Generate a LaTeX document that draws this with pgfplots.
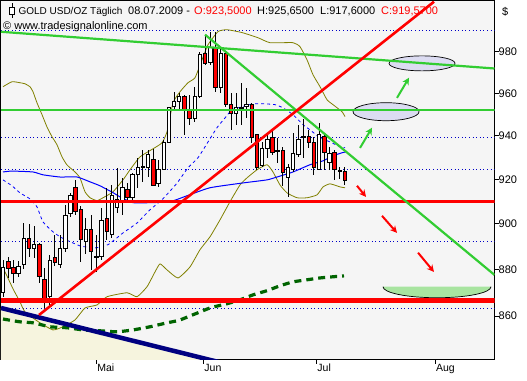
\documentclass[border=0pt]{standalone}
\usepackage{pgfplots}
\pgfplotsset{compat=1.18}
\usepackage{pgfplotstable}
\usetikzlibrary{arrows.meta}
\usepackage{fontspec}
\setmainfont{Liberation Sans}

\definecolor{bggray}{RGB}{245,245,245}
\definecolor{beige}{RGB}{246,244,222}
\definecolor{olivebb}{RGB}{128,128,0}
\definecolor{limeg}{RGB}{50,205,50}
\definecolor{darkg}{RGB}{0,100,0}
\definecolor{navyl}{RGB}{0,0,128}
\definecolor{lav}{RGB}{220,220,242}
\definecolor{bowl}{RGB}{168,228,160}
\definecolor{cred}{RGB}{255,0,0}
\definecolor{gridblue}{RGB}{0,0,200}
\definecolor{mablue}{RGB}{0,0,255}

% daily candles: x = trading-day index, open high low close
\pgfplotstableread{
x o h l c
0 869.9 884.1 868.2 881.1
1 883.7 885.5 876.3 880.6
2 881.1 884.1 874.2 878.5
3 878.5 883.7 876.8 881.5
4 882.0 900.4 880.2 893.4
5 893.8 900.0 885.5 889.4
6 889.0 899.1 885.1 890.8
7 890.8 891.6 874.2 877.2
8 875.5 880.6 863.4 867.7
9 868.2 886.4 864.7 884.1
10 885.1 895.2 881.5 882.9
11 882.0 895.2 880.6 889.4
12 889.4 908.5 887.7 904.0
13 904.5 913.9 903.1 912.6
14 916.2 919.8 904.0 905.8
15 906.3 908.1 883.3 893.0
16 892.5 902.7 886.8 897.4
17 897.4 904.0 879.8 887.7
18 885.7 895.2 878.9 885.1
19 885.5 907.2 884.1 901.8
20 902.7 916.2 893.0 896.5
21 895.2 917.5 893.8 913.0
22 907.2 925.3 904.9 910.8
23 909.5 920.7 904.0 916.2
24 915.3 918.4 910.8 912.1
25 912.1 923.0 909.5 922.1
26 922.1 929.9 916.2 925.7
27 925.9 933.6 918.9 925.3
28 925.7 933.6 921.2 931.3
29 929.4 934.0 917.1 917.5
30 918.0 929.0 916.6 924.4
31 924.8 938.2 924.4 936.8
32 937.2 953.6 936.8 953.1
33 953.6 960.7 952.2 956.0
34 956.4 960.2 952.2 958.3
35 958.3 959.2 940.5 951.7
36 952.2 959.2 945.2 948.0
37 948.0 963.1 946.6 958.7
38 958.3 979.9 957.8 978.4
39 978.9 988.2 973.6 974.1
40 974.6 989.7 973.6 981.8
41 981.8 989.7 960.7 962.6
42 962.6 982.3 960.2 978.9
43 978.9 979.9 953.6 955.0
44 955.0 960.2 942.8 950.3
45 950.7 960.2 945.2 953.1
46 953.4 965.0 945.2 952.8
47 953.6 962.6 948.4 954.5
48 955.0 955.5 936.8 939.1
49 940.5 940.6 924.4 925.7
50 926.2 937.2 925.7 934.0
51 934.0 940.5 929.9 938.2
52 939.1 942.8 931.3 932.2
53 933.4 939.1 927.6 932.8
54 933.1 934.9 917.1 923.4
55 921.1 927.1 912.1 925.7
56 924.4 941.4 923.4 931.7
57 931.3 945.2 930.3 938.6
58 939.8 948.0 929.9 939.2
59 940.0 942.8 934.5 936.8
60 937.2 939.5 922.1 925.7
61 924.8 946.1 924.4 940.5
62 940.0 941.4 924.4 932.6
63 927.6 934.9 924.4 931.7
64 932.2 933.6 919.8 924.4
65 924.1 925.7 920.2 923.5
66 923.5 925.65 917.6 919.57
}\candles

\begin{document}
\begin{tikzpicture}
\fill[white] (0,0) rectangle (527pt,-380pt);
\useasboundingbox (0,0) rectangle (527pt,-380pt);
\begin{axis}[
  at={(1pt,-0.5pt)}, anchor=north west,
  scale only axis, width=493.5pt, height=359.5pt,
  xmin=-0.386, xmax=94.88,
  ymode=log, ymin=841.54, ymax=1005.1,
  axis background/.style={fill=bggray},
  axis line style={black, line width=1pt},
  xtick={18.09,38.75,60.56,83.46},
  xticklabels={Mai,Jun,Jul,Aug},
  ytick={860,880,900,920,940,960,980},
  yticklabels={860,880,900,920,940,960,980},
  yminorticks=false, xminorticks=false,
  xtick pos=left, ytick pos=right, yticklabel pos=right,
  tick align=outside, major tick length=4pt,
  tick style={black, line width=0.8pt},
  x tick label style={font=\fontsize{10.5}{12}\selectfont, anchor=north west, inner sep=0pt, xshift=0.5pt},
  y tick label style={font=\fontsize{11}{12}\selectfont, anchor=west, inner sep=0pt},
  clip=true,
]
% shaded area below the long-term trend line
\addplot[fill=beige, draw=none, forget plot] coordinates {(-0.386,863.4) (40.5,841.2) (-0.386,841.2)} -- cycle;
% dotted horizontal levels
\addplot[gridblue, line width=0.9pt, dash pattern=on 1pt off 2.6pt] coordinates {(-0.386,990.1) (94.88,990.1)};
\addplot[gridblue, line width=0.9pt, dash pattern=on 1pt off 2.6pt] coordinates {(-0.386,939.4) (94.88,939.4)};
\addplot[gridblue, line width=0.9pt, dash pattern=on 1pt off 2.6pt] coordinates {(-0.386,924.7) (94.88,924.7)};
\addplot[gridblue, line width=0.9pt, dash pattern=on 1pt off 2.6pt] coordinates {(-0.386,892.1) (94.88,892.1)};
\addplot[gridblue, line width=0.9pt, dash pattern=on 1pt off 2.6pt] coordinates {(-0.386,863.4) (94.88,863.4)};
% ellipses (targets)
\draw[black, line width=0.7pt, fill=lav] (axis cs:73.94,951.3) ellipse [x radius=33pt, y radius=9pt];
\draw[black, line width=0.7pt, fill=lav] (axis cs:80.89,974.3) ellipse [x radius=33pt, y radius=7.5pt];
\fill[bowl] (axis cs:83.78,872.5) ++(-54pt,0pt) arc[start angle=180, end angle=360, x radius=54pt, y radius=11pt] -- cycle;
\draw[black, line width=0.7pt] (axis cs:83.78,872.5) ++(-54pt,0pt) arc[start angle=180, end angle=360, x radius=54pt, y radius=11pt];
% Bollinger upper
\addplot[olivebb, line width=0.8pt, smooth, tension=0.3] coordinates {(0,963.1) (1.74,965.5) (3.28,965.0) (4.25,964.5) (5.21,963.1) (5.79,960.7) (6.56,955.5) (7.53,949.9) (8.49,944.2) (9.46,939.6) (10.42,935.9) (11.39,930.3) (12.36,926.6) (13.90,923.4) (14.86,920.7) (15.83,914.4) (16.80,911.7) (18.15,910.4) (19.31,911.7) (21.24,914.4) (23.17,919.8) (24.52,924.4) (26.45,930.3) (28.96,934.0) (30.69,936.8) (31.66,941.9) (32.82,955.5) (34.17,960.7) (35.71,965.0) (37.07,967.4) (38.42,976.0) (39.58,983.3) (41.51,989.7) (43.24,990.6) (46.14,989.2) (49.23,986.7) (51.54,984.3) (55.98,984.3) (57.34,982.3) (58.69,976.0) (59.85,968.8) (61.20,963.1) (62.55,956.9) (63.71,954.6) (65.44,951.3) (66.02,949.0)};
% Bollinger lower
\addplot[olivebb, line width=0.8pt, smooth, tension=0.3] coordinates {(-0.19,880.7) (0.39,878.9) (1.93,871.6) (3.28,866.0) (4.25,861.7) (7.14,857.1) (9.65,854.1) (11.58,855.4) (13.90,858.3) (15.83,863.4) (18.15,864.7) (20.08,868.2) (23.94,869.9) (25.87,868.2) (27.80,872.5) (29.34,878.9) (30.31,882.4) (31.66,879.8) (33.78,876.3) (36.10,881.1) (38.03,888.6) (39.96,894.3) (41.89,901.8) (43.82,909.9) (45.75,917.5) (47.10,920.7) (49.03,924.4) (50.97,926.7) (52.12,923.4) (53.47,917.5) (54.83,913.9) (56.76,911.7) (58.69,911.7) (60.62,913.0) (61.78,916.6) (63.13,918.0) (65.06,916.6) (66.02,916.2)};
% 20-day average (dashed blue)
\addplot[mablue, line width=0.8pt, dash pattern=on 3pt off 3pt, smooth, tension=0.3] coordinates {(0,919.8) (1.74,917.1) (3.28,913.9) (5.21,911.2) (6.56,907.6) (7.72,900.9) (9.65,896.5) (11.39,893.8) (14.86,890.3) (17.76,889.4) (20.27,890.8) (23.17,896.0) (25.87,900.4) (28.38,906.3) (30.69,910.8) (32.82,916.2) (33.78,918.9) (35.71,925.3) (37.64,929.9) (39.58,937.2) (41.31,943.8) (42.86,948.4) (44.21,952.2) (46.14,953.6) (48.26,955.0) (50.58,955.0) (52.51,954.6) (54.05,953.1) (55.98,949.9) (57.92,945.2) (59.27,942.8) (61.20,939.1) (63.13,937.2) (65.06,934.9) (66.02,934.5)};
% longer average (solid blue)
\addplot[mablue, line width=1pt, smooth, tension=0.3] coordinates {(0,923.4) (1.74,923.8) (5.79,923.4) (7.72,922.1) (11.0,921.1) (14.29,921.1) (16.80,918.9) (18.73,917.1) (21.24,914.0) (22.59,912.1) (25.10,909.5) (28.38,909.5) (32.24,909.9) (35.52,912.6) (39.96,916.2) (46.33,918.4) (50.97,919.8) (52.90,921.1) (55.98,923.4) (59.27,926.7) (61.78,928.5) (63.71,930.8) (65.44,932.2) (66.2,932.6)};
% 200-day average (dark green dashed)
\addplot[darkg, line width=3.2pt, dash pattern=on 7pt off 5pt, smooth, tension=0.3] coordinates {(0,858.7) (3.28,857.5) (5.79,857.1) (9.07,855.4) (12.36,855.0) (15.44,854.1) (18.73,853.7) (22.01,853.3) (25.10,854.1) (28.38,855.4) (31.66,857.1) (34.17,858.3) (39.96,863.4) (43.24,865.2) (45.75,866.9) (48.26,869.0) (50.97,870.8) (53.47,872.9) (55.98,874.6) (58.69,875.5) (61.20,876.3) (63.71,876.8) (65.83,877.2)};
% candles
\pgfplotstablegetrowsof{\candles}
\pgfmathtruncatemacro\lastrow{\pgfplotsretval-1}
\pgfplotsforeachungrouped \r in {0,...,\lastrow}{%
  \pgfplotstablegetelem{\r}{x}\of\candles \let\cX\pgfplotsretval
  \pgfplotstablegetelem{\r}{o}\of\candles \let\cO\pgfplotsretval
  \pgfplotstablegetelem{\r}{h}\of\candles \let\cH\pgfplotsretval
  \pgfplotstablegetelem{\r}{l}\of\candles \let\cL\pgfplotsretval
  \pgfplotstablegetelem{\r}{c}\of\candles \let\cC\pgfplotsretval
  \pgfmathsetmacro\xl{\cX-0.33}%
  \pgfmathsetmacro\xr{\cX+0.33}%
  \pgfmathsetmacro\dd{\cC-\cO}%
  \ifdim\dd pt>0.7pt \def\bodycol{white}\else\ifdim\dd pt<-0.7pt \def\bodycol{cred}\else\def\bodycol{black}\fi\fi
  \edef\temp{\noexpand\addplot[black, line width=0.8pt, forget plot] coordinates {(\cX,\cL) (\cX,\cH)};
    \noexpand\addplot[draw=black, fill=\bodycol, line width=0.7pt, forget plot] coordinates {(\xl,\cO) (\xr,\cO) (\xr,\cC) (\xl,\cC)} -- cycle;}%
  \temp
}
% long-term falling trend line (navy)
\addplot[navyl, line width=4.5pt] coordinates {(-0.386,863.4) (43.8,839.5)};
% horizontal levels
\addplot[limeg, line width=2.2pt] coordinates {(-0.386,951.9) (94.88,951.9)};
\addplot[cred, line width=2.2pt] coordinates {(-0.386,910.0) (94.88,910.0)};
\addplot[cred, line width=4.2pt] coordinates {(-0.386,866.6) (94.88,866.6)};
% trend lines
\addplot[limeg, line width=2.2pt] coordinates {(-0.386,989.6) (94.88,971.8)};
\addplot[limeg, line width=2.2pt] coordinates {(39.0,988.2) (94.88,877.6)};
\addplot[cred, line width=2.6pt] coordinates {(6.95,860.4) (83.2,1004.4)};
% arrows
\addplot[limeg, line width=2pt, -{Stealth[length=7pt,width=7pt]}] coordinates {(68.92,934.4) (71.24,943.8)};
\addplot[limeg, line width=2pt, -{Stealth[length=7pt,width=7pt]}] coordinates {(76.06,957.8) (78.38,967.4)};
\addplot[cred, line width=2pt, -{Stealth[length=7pt,width=7pt]}] coordinates {(68.34,917.1) (70.08,912.1)};
\addplot[cred, line width=2pt, -{Stealth[length=7pt,width=7pt]}] coordinates {(73.17,903.6) (76.06,896.0)};
\addplot[cred, line width=2pt, -{Stealth[length=7pt,width=7pt]}] coordinates {(80.12,887.3) (83.2,878.9)};
\end{axis}
% header
\draw[black, line width=0.8pt] (12pt,-3pt) -- (12pt,-18pt);
\draw[black, line width=0.8pt, fill=white] (9.8pt,-7pt) rectangle (14.6pt,-14pt);
\node[anchor=base west, inner sep=0pt, font=\fontsize{10}{12}\selectfont] at (18.3pt,-14.7pt) {GOLD USD/OZ Täglich};
\node[anchor=base west, inner sep=0pt, font=\fontsize{11}{12}\selectfont] at (128pt,-14.7pt) {08.07.2009 -};
\node[anchor=base west, inner sep=0pt, font=\fontsize{11}{12}\selectfont, text=cred] at (194pt,-14.7pt) {O:923,5000};
\node[anchor=base west, inner sep=0pt, font=\fontsize{11}{12}\selectfont] at (257pt,-14.7pt) {H:925,6500};
\node[anchor=base west, inner sep=0pt, font=\fontsize{11}{12}\selectfont] at (320pt,-14.7pt) {L:917,6000};
\node[anchor=base west, inner sep=0pt, font=\fontsize{11}{12}\selectfont, text=cred] at (381pt,-14.7pt) {C:919,5700};
\node[anchor=base west, inner sep=0pt, font=\fontsize{11}{12}\selectfont] at (3pt,-29.3pt) {© www.tradesignalonline.com};
\node[anchor=base west, inner sep=0pt, font=\fontsize{11}{12}\selectfont] at (502pt,-15pt) {\$};
\end{tikzpicture}
\end{document}
